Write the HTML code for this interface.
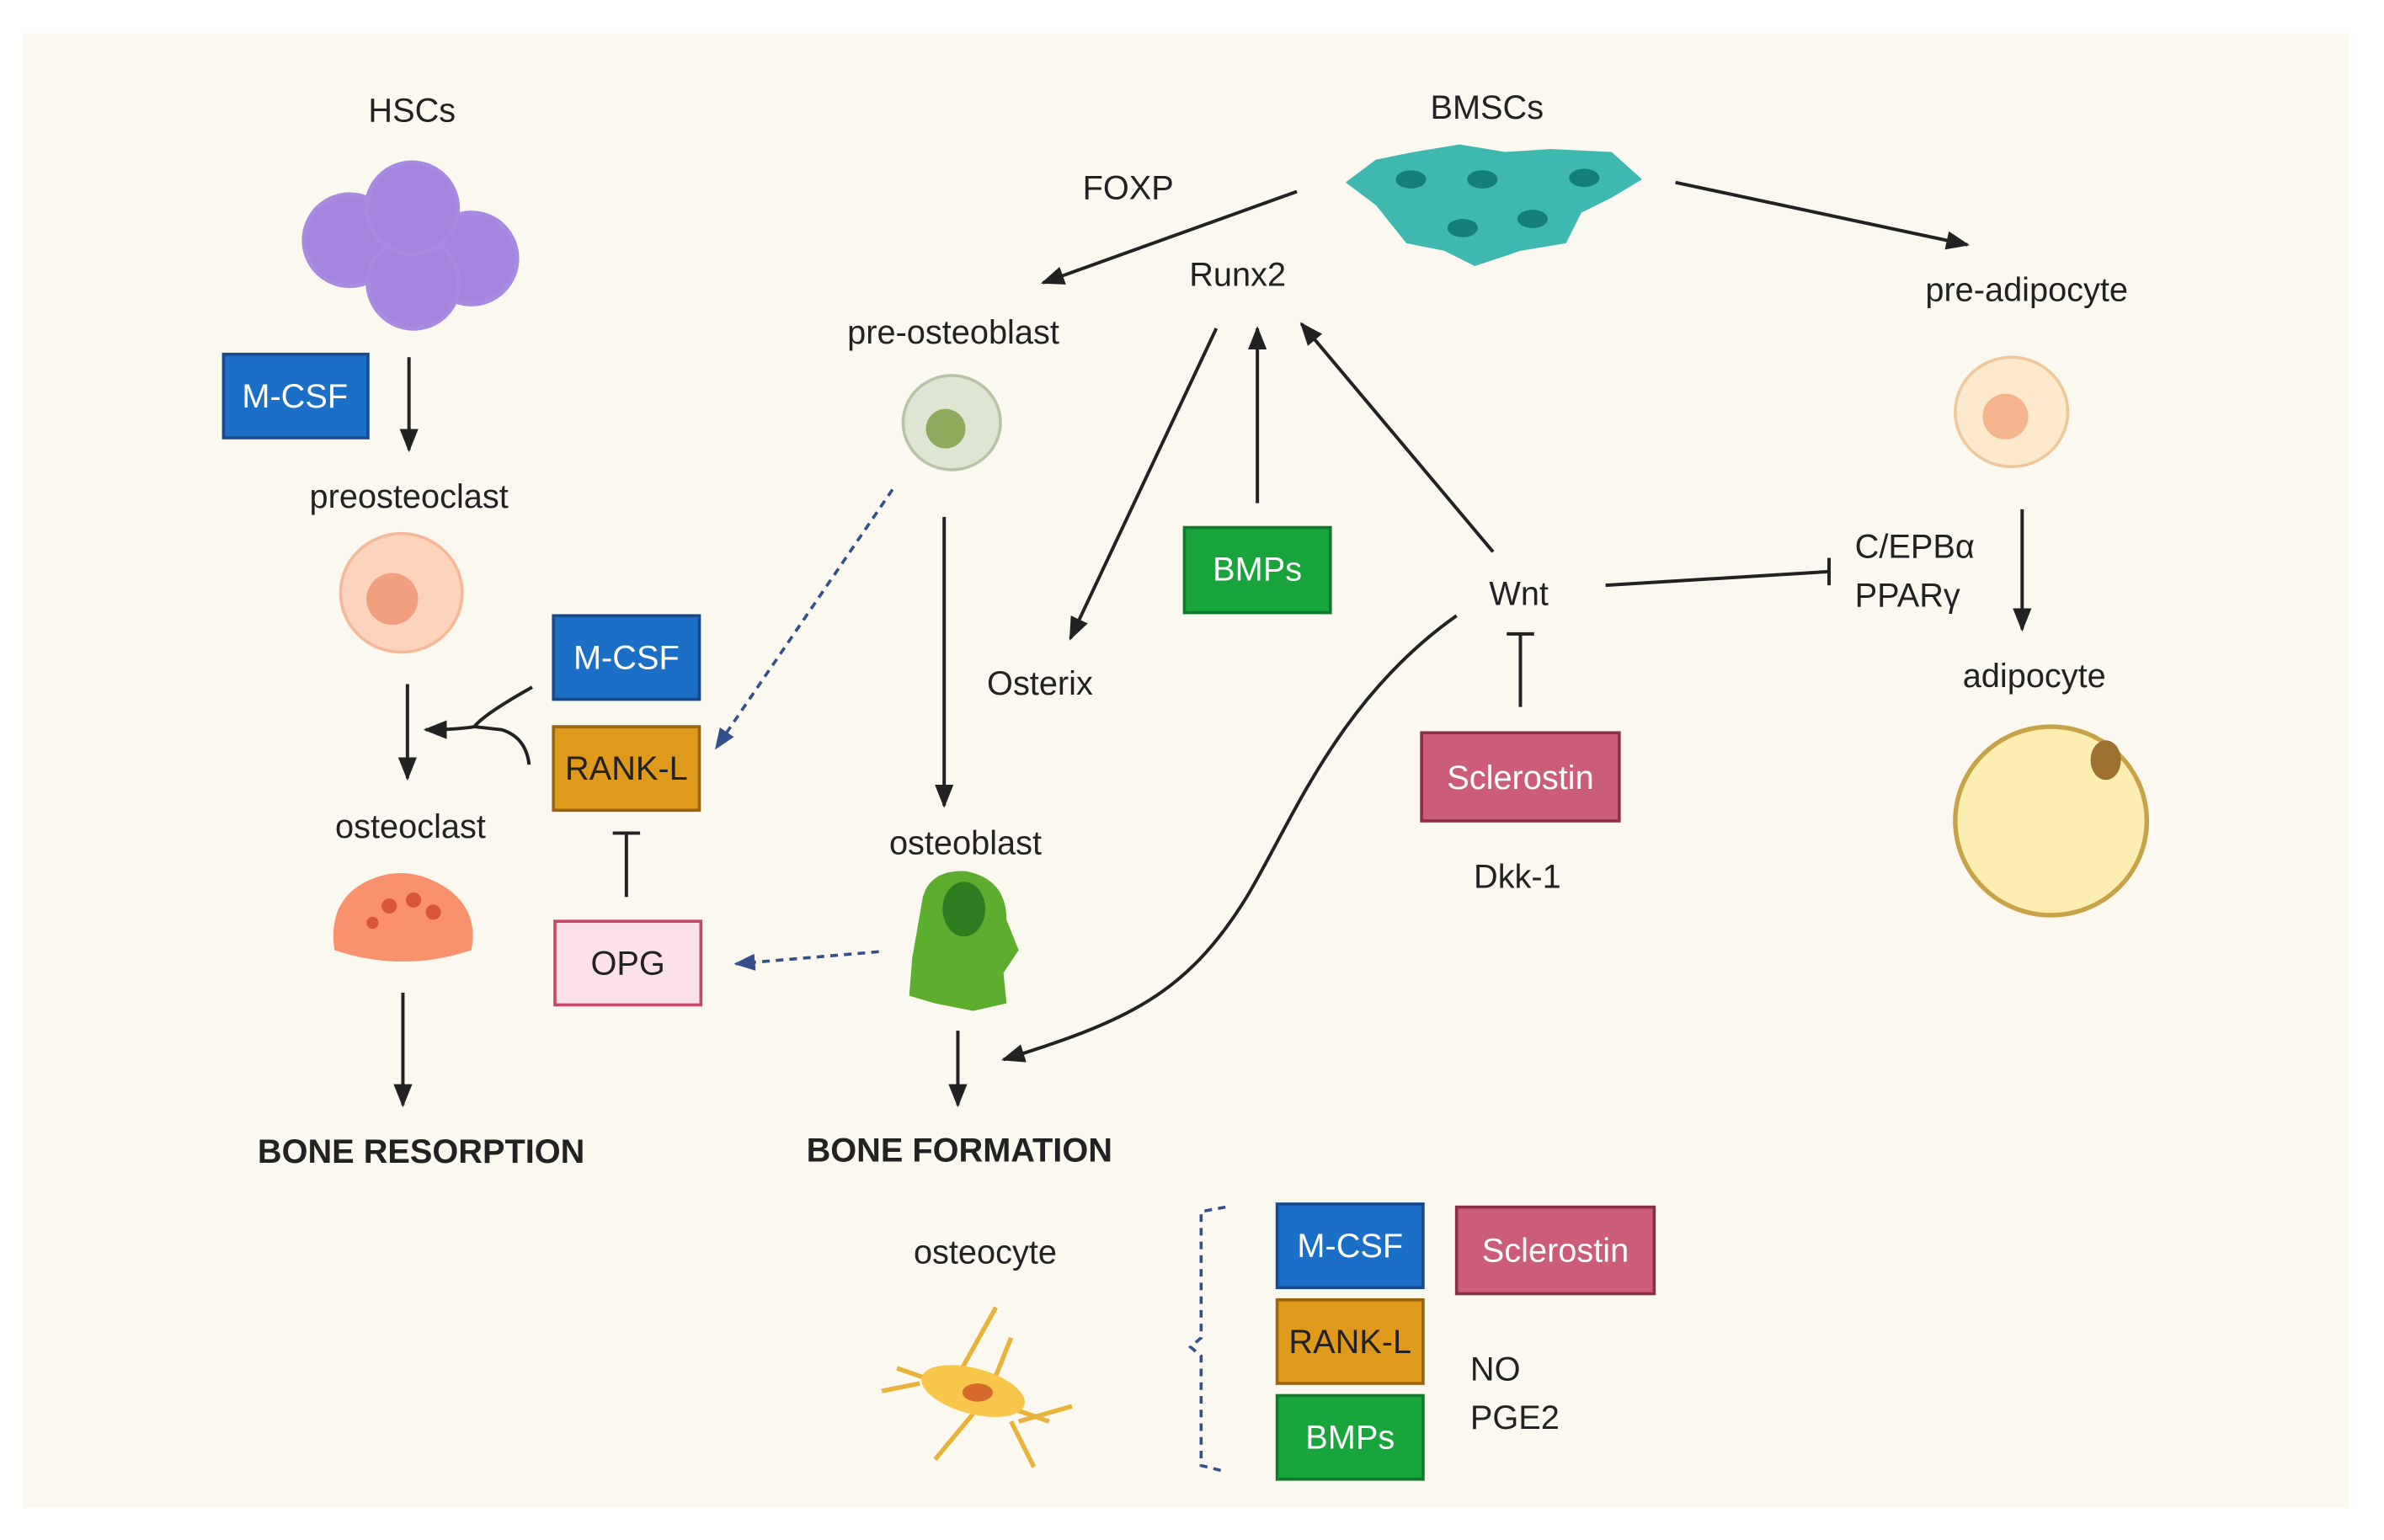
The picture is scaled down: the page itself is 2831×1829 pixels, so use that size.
<!DOCTYPE html>
<html><head><meta charset="utf-8"><style>
html,body{margin:0;padding:0;background:#fff}
svg{display:block}
text{font-family:"Liberation Sans",sans-serif;font-size:22px;fill:#222}
</style></head><body>
<svg width="2831" height="1829" viewBox="0 0 1568 1013" preserveAspectRatio="none" xmlns="http://www.w3.org/2000/svg">
<defs>
<marker id="a" viewBox="0 0 10 10" refX="9" refY="5" markerWidth="7" markerHeight="7" orient="auto-start-reverse"><path d="M0,1 L10,5 L0,9 z" fill="#222"/></marker>
<marker id="b" viewBox="0 0 10 10" refX="9" refY="5" markerWidth="7" markerHeight="7" orient="auto"><path d="M0,1 L10,5 L0,9 z" fill="#34508a"/></marker>
</defs>
<rect x="0" y="0" width="1568" height="1013" fill="#fff"/>
<rect x="15" y="22" width="1530" height="970" fill="#fbf8ef"/>

<g stroke="#222" stroke-width="2.2" fill="none">
<line x1="269" y1="235" x2="269" y2="296" marker-end="url(#a)"/>
<line x1="268" y1="450" x2="268" y2="512" marker-end="url(#a)"/>
<path d="M350,452 Q318,470 312,478 Q300,480 280,480" marker-end="url(#a)"/>
<path d="M348,503 Q346,485 330,480 L312,478"/>
<line x1="265" y1="653" x2="265" y2="727" marker-end="url(#a)"/>
<line x1="412" y1="548" x2="412" y2="590"/><line x1="403" y1="548" x2="421" y2="548"/>
<line x1="853" y1="126" x2="686" y2="186" marker-end="url(#a)"/>
<line x1="1102" y1="120" x2="1294" y2="161" marker-end="url(#a)"/>
<line x1="800" y1="216" x2="704" y2="420" marker-end="url(#a)"/>
<line x1="827" y1="331" x2="827" y2="216" marker-end="url(#a)"/>
<line x1="982" y1="363" x2="856" y2="213" marker-end="url(#a)"/>
<line x1="621" y1="340" x2="621" y2="530" marker-end="url(#a)"/>
<line x1="630" y1="678" x2="630" y2="727" marker-end="url(#a)"/>
<path d="M958,405 C880,460 850,540 820,590 C780,655 740,672 660,697" marker-end="url(#a)"/>
<line x1="1056" y1="385" x2="1203" y2="376"/><line x1="1203" y1="367" x2="1203" y2="385"/>
<line x1="1000" y1="465" x2="1000" y2="417"/><line x1="991" y1="417" x2="1009" y2="417"/>
<line x1="1330" y1="335" x2="1330" y2="414" marker-end="url(#a)"/>
</g>
<g stroke="#34508a" stroke-width="2" fill="none" stroke-dasharray="5,4">
<line x1="587" y1="322" x2="471" y2="492" marker-end="url(#b)"/>
<line x1="578" y1="626" x2="484" y2="634" marker-end="url(#b)"/>
<path d="M806,794 L790,797 L790,880 L783,886 L790,892 L790,964 L806,968"/>
</g>

<g stroke="#a88be0" stroke-width="3" fill="#a585dd">
<circle cx="230" cy="158" r="30"/><circle cx="310" cy="170" r="30"/><circle cx="272" cy="186" r="30"/><circle cx="271" cy="137" r="30"/>
</g>
<ellipse cx="264" cy="390" rx="40" ry="39" fill="#fcd3bd" stroke="#f5b898" stroke-width="2"/>
<circle cx="258" cy="394" r="17" fill="#f0a07e"/>
<path d="M220,625 Q215,590 245,578 Q270,568 295,585 Q315,600 310,625 Q265,640 220,625z" fill="#f9926c"/>
<g fill="#d9563a"><circle cx="256" cy="596" r="5"/><circle cx="272" cy="592" r="5"/><circle cx="285" cy="600" r="5"/><circle cx="245" cy="607" r="4"/></g>
<ellipse cx="626" cy="278" rx="32" ry="31" fill="#dfe5d3" stroke="#b9c4a7" stroke-width="2"/>
<circle cx="622" cy="282" r="13" fill="#8eaa5c"/>
<path d="M607,590 Q612,572 635,573 Q662,578 662,605 L670,625 L660,640 L662,660 L640,665 L615,660 L598,655 L600,630 Z" fill="#5dae2e"/>
<ellipse cx="634" cy="598" rx="14" ry="18" fill="#2d7d21"/>
<ellipse cx="1323" cy="271" rx="37" ry="36" fill="#fde9cd" stroke="#efc79b" stroke-width="2"/>
<circle cx="1319" cy="274" r="15" fill="#f4b48c"/>
<ellipse cx="1349" cy="540" rx="63" ry="62" fill="#fbeeb0" stroke="#c8a248" stroke-width="3"/>
<ellipse cx="1385" cy="500" rx="10" ry="13" fill="#9c7030"/>
<g fill="#3fb8b0">
<path d="M885,120 L905,105 L930,100 L960,95 L990,100 L1020,98 L1060,100 L1080,118 L1060,130 L1040,140 L1030,160 L1000,165 L970,175 L950,165 L925,160 L905,135 Z"/>
</g>
<g fill="#157f7b"><ellipse cx="928" cy="118" rx="10" ry="6"/><ellipse cx="975" cy="118" rx="10" ry="6"/><ellipse cx="1042" cy="117" rx="10" ry="6"/><ellipse cx="962" cy="150" rx="10" ry="6"/><ellipse cx="1008" cy="144" rx="10" ry="6"/></g>
<g stroke="#e9b23a" stroke-width="3" fill="none">
<line x1="590" y1="900" x2="690" y2="935"/><line x1="605" y1="910" x2="580" y2="915"/><line x1="630" y1="905" x2="655" y2="860"/><line x1="655" y1="905" x2="665" y2="880"/><line x1="640" y1="930" x2="615" y2="960"/><line x1="670" y1="935" x2="705" y2="925"/><line x1="665" y1="935" x2="680" y2="965"/>
</g>
<ellipse cx="640" cy="915" rx="35" ry="15" fill="#f7c64a" transform="rotate(15 640 915)"/>
<ellipse cx="643" cy="916" rx="10" ry="6" fill="#d56a2c"/>

<g stroke-width="2">
<rect x="147" y="233" width="95" height="55" fill="#1c6fc7" stroke="#184a8c"/>
<rect x="364" y="405" width="96" height="55" fill="#1c6fc7" stroke="#184a8c"/>
<rect x="364" y="478" width="96" height="55" fill="#df9a1c" stroke="#9c6410"/>
<rect x="365" y="606" width="96" height="55" fill="#fbe2ea" stroke="#c7466a"/>
<rect x="779" y="347" width="96" height="56" fill="#18a53c" stroke="#0f7a2a"/>
<rect x="935" y="482" width="130" height="58" fill="#cc5d78" stroke="#8a2f45"/>
<rect x="840" y="792" width="96" height="55" fill="#1c6fc7" stroke="#184a8c"/>
<rect x="958" y="794" width="130" height="57" fill="#cc5d78" stroke="#8a2f45"/>
<rect x="840" y="855" width="96" height="55" fill="#df9a1c" stroke="#9c6410"/>
<rect x="840" y="918" width="96" height="55" fill="#18a53c" stroke="#0f7a2a"/>
</g>
<g text-anchor="middle">
<text x="194" y="268" style="fill:#fff">M-CSF</text>
<text x="412" y="440" style="fill:#fff">M-CSF</text>
<text x="412" y="513">RANK-L</text>
<text x="413" y="641">OPG</text>
<text x="827" y="382" style="fill:#fff">BMPs</text>
<text x="1000" y="519" style="fill:#fff">Sclerostin</text>
<text x="888" y="827" style="fill:#fff">M-CSF</text>
<text x="1023" y="830" style="fill:#fff">Sclerostin</text>
<text x="888" y="890">RANK-L</text>
<text x="888" y="953" style="fill:#fff">BMPs</text>

<text x="271" y="80">HSCs</text>
<text x="978" y="78">BMSCs</text>
<text x="742" y="131">FOXP</text>
<text x="814" y="188">Runx2</text>
<text x="627" y="226">pre-osteoblast</text>
<text x="1333" y="198">pre-adipocyte</text>
<text x="269" y="334">preosteoclast</text>
<text x="684" y="457">Osterix</text>
<text x="999" y="398">Wnt</text>
<text x="270" y="551">osteoclast</text>
<text x="635" y="562">osteoblast</text>
<text x="998" y="584">Dkk-1</text>
<text x="1338" y="452">adipocyte</text>
<text x="277" y="765" style="font-weight:bold">BONE RESORPTION</text>
<text x="631" y="764" style="font-weight:bold">BONE FORMATION</text>
<text x="648" y="831">osteocyte</text>
</g>
<text x="1220" y="367">C/EPBα</text>
<text x="1220" y="399">PPARγ</text>
<text x="967" y="908">NO</text>
<text x="967" y="940">PGE2</text>
</svg>
</body></html>
